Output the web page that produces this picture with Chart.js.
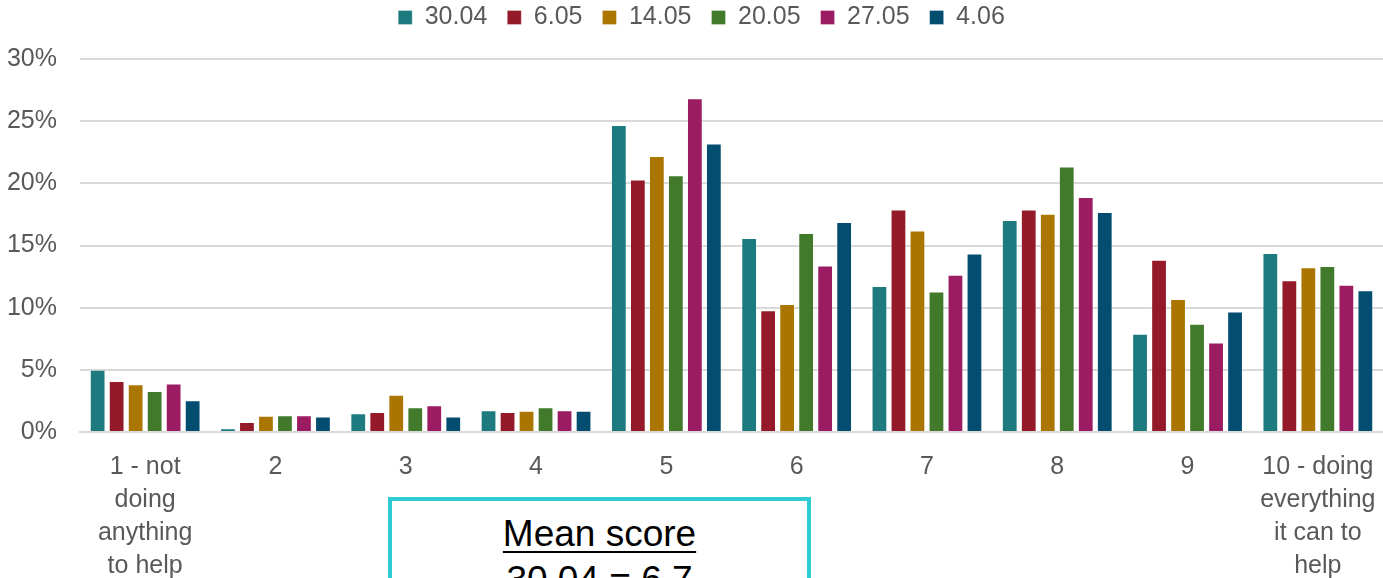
<!DOCTYPE html>
<html>
<head>
<meta charset="utf-8">
<script src="https://cdn.jsdelivr.net/npm/chart.js@4"></script>
<style>
  html, body { margin: 0; padding: 0; background: #fff; overflow: hidden; }
  #wrap { position: relative; width: 1383px; height: 578px; }
  #meanBox {
    position: absolute; left: 388px; top: 497px; width: 415px; height: 120px;
    border: 4px solid #2ECBD2; background: #fff;
    font-family: "Liberation Sans", Arial, sans-serif; font-size: 37px; color: #000;
    text-align: center; line-height: 46px; padding-top: 10px;
  }
  #meanBox u { text-decoration-thickness: 2px; text-underline-offset: 5px; }
</style>
</head>
<body>
<div id="wrap">
  <canvas id="chart" width="1383" height="578"></canvas>
  <div id="meanBox"><u>Mean score</u><br>30.04 = 6.7</div>
</div>
<script>
const categories = [
  ['1 - not', 'doing', 'anything', 'to help'],
  '2', '3', '4', '5', '6', '7', '8', '9',
  ['10 - doing', 'everything', 'it can to', 'help']
];
const seriesNames = ['30.04', '6.05', '14.05', '20.05', '27.05', '4.06'];
const seriesColors = ['#1D7B7F', '#951A29', '#AA7600', '#417A2B', '#9B1C63', '#024D70'];

const s3004 = [5.0, 0.3, 1.5, 1.75, 24.7, 15.6, 11.75, 17.05, 7.9, 14.4];
const s0605 = [4.1, 0.8, 1.6, 1.6, 20.3, 9.8, 17.9, 17.9, 13.85, 12.2];
const s1405 = [3.85, 1.3, 3.0, 1.7, 22.2, 10.3, 16.2, 17.55, 10.7, 13.25];
const s2005 = [3.3, 1.35, 2.0, 2.0, 20.65, 16.0, 11.3, 21.35, 8.7, 13.35];
const s2705 = [3.9, 1.35, 2.15, 1.75, 26.85, 13.4, 12.65, 18.9, 7.2, 11.85];
const s0406 = [2.55, 1.25, 1.25, 1.7, 23.2, 16.9, 14.35, 17.7, 9.7, 11.4];

const yTicks = [0, 5, 10, 15, 20, 25, 30];

const allSeries = [s3004, s0605, s1405, s2005, s2705, s0406];

const datasets = allSeries.map((data, i) => ({
  label: seriesNames[i],
  data: data,
  backgroundColor: seriesColors[i],
  borderColor: 'rgba(255,255,255,0.3)',
  borderWidth: 1,
  categoryPercentage: 0.875,
  barPercentage: 0.83
}));

// pull the legend up towards the top edge, like the original
const legendShift = {
  id: 'legendShift',
  afterLayout(chart) {
    chart.legend.top -= 19;
    chart.legend.bottom -= 19;
    chart.legend.left += 10;
    chart.legend.right += 10;
  }
};

const font = '"Liberation Sans", Arial, sans-serif';

const ctx = document.getElementById('chart').getContext('2d');
new Chart(ctx, {
  type: 'bar',
  data: { labels: categories, datasets: datasets },
  plugins: [legendShift],
  options: {
    responsive: false,
    animation: false,
    layout: { padding: { top: 4, right: 0, left: 0, bottom: 0 } },
    plugins: {
      legend: {
        position: 'top',
        labels: {
          boxWidth: 14,
          boxHeight: 14,
          padding: 20,
          color: '#595959',
          font: { family: font, size: 25 }
        }
      },
      tooltip: { enabled: false }
    },
    scales: {
      x: {
        grid: { display: false, drawTicks: false },
        border: { color: '#D9D9D9', width: 2 },
        ticks: {
          color: '#595959',
          padding: 19,
          maxRotation: 0,
          autoSkip: false,
          font: { family: font, size: 25, lineHeight: 1.32 }
        },
        afterFit: (s) => { s.height = 146; s.paddingLeft = 0; s.paddingRight = 0; }
      },
      y: {
        min: 0,
        max: 30,
        afterBuildTicks: (s) => { s.ticks = yTicks.map(v => ({ value: v })); },
        grid: { color: '#D9D9D9', lineWidth: 2, drawTicks: false },
        border: { display: false },
        ticks: {
          color: '#595959',
          padding: 23,
          callback: (v) => v + '%',
          font: { family: font, size: 25 }
        },
        afterFit: (s) => { s.width = 80; }
      }
    }
  }
});
</script>
</body>
</html>
